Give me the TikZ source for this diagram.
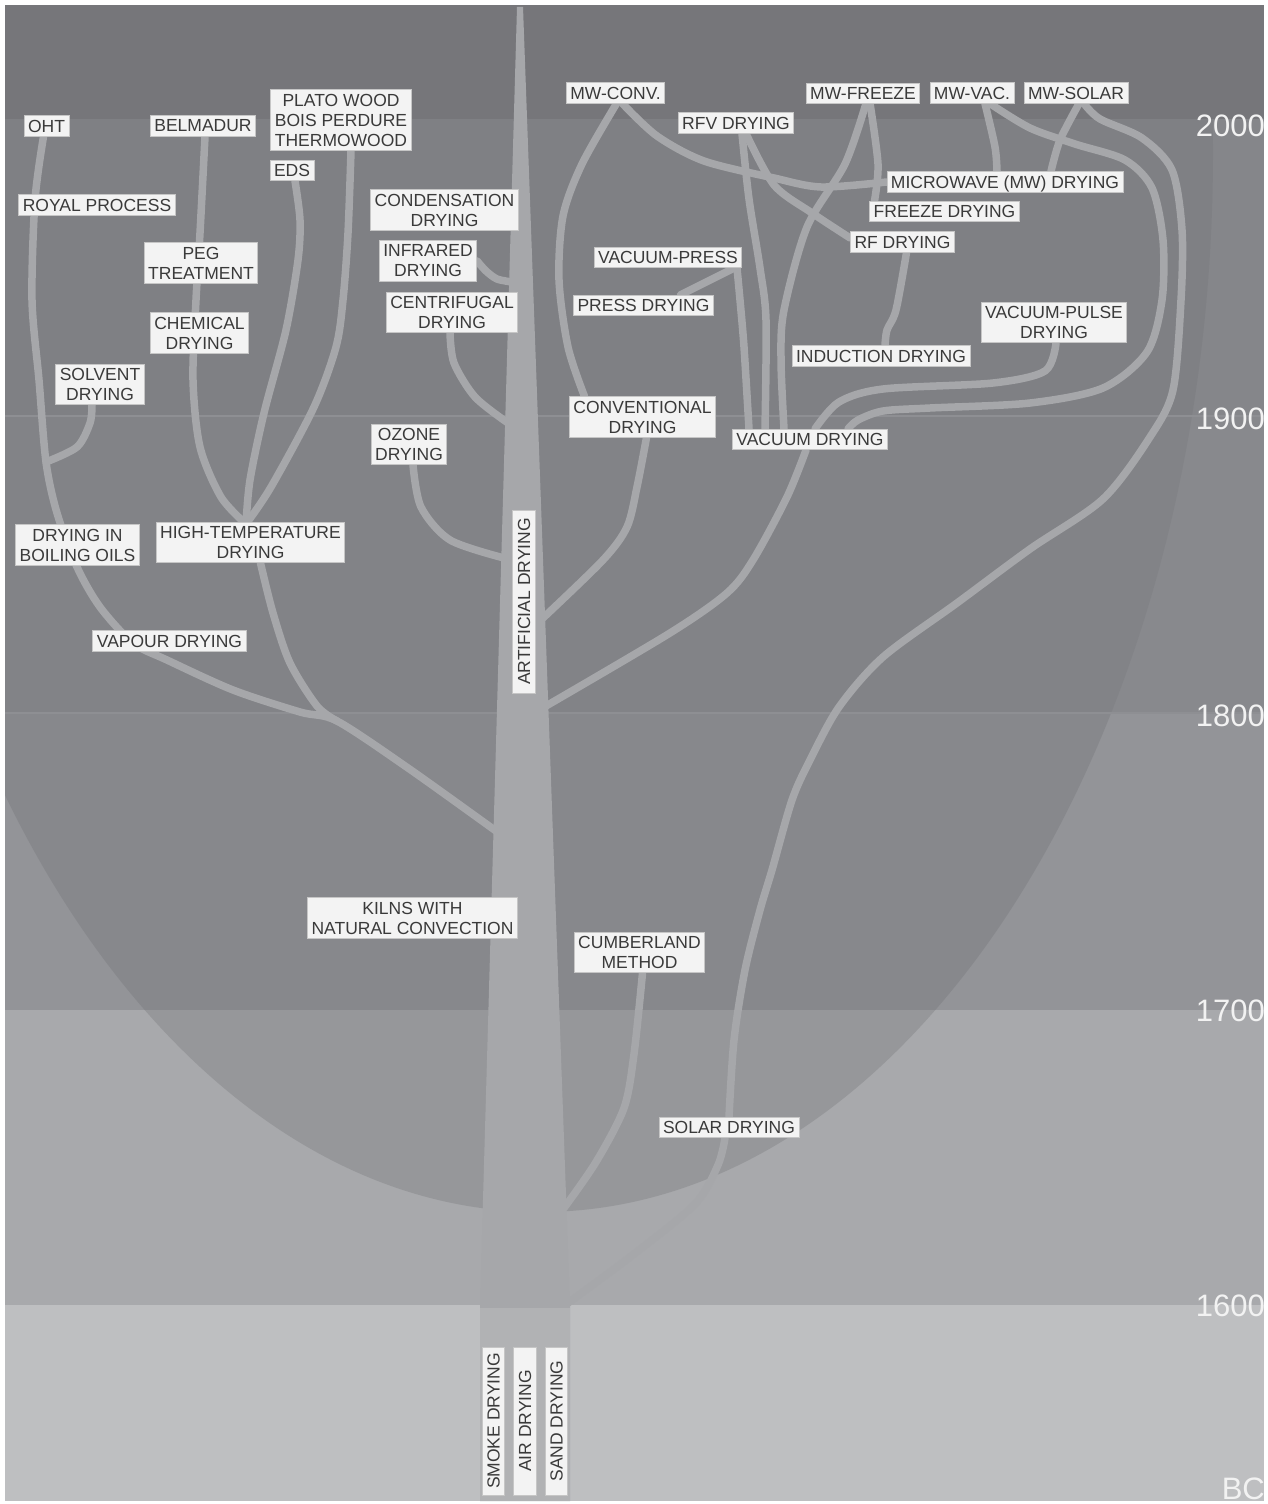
\documentclass[tikz,border=0pt]{standalone}
\usepackage{fontspec}
\setmainfont{Liberation Sans}
\usetikzlibrary{positioning, backgrounds}

\definecolor{topband}{HTML}{76767A}
\definecolor{bandA}{HTML}{85868A}
\definecolor{bandB}{HTML}{88898D}
\definecolor{bandC}{HTML}{939498}
\definecolor{bandD}{HTML}{A8A9AC}
\definecolor{bandE}{HTML}{BEBFC1}
\definecolor{inA}{HTML}{7F8084}
\definecolor{inB}{HTML}{828387}
\definecolor{inC}{HTML}{87888C}
\definecolor{inD}{HTML}{96979A}
\definecolor{bandline}{HTML}{8E8F93}
\definecolor{wood}{HTML}{A6A7AA}
\definecolor{woodlow}{HTML}{B1B2B4}
\definecolor{boxfill}{HTML}{F3F3F3}
\definecolor{boxline}{HTML}{C6C6C6}
\definecolor{labeltext}{HTML}{3A3A3A}
\definecolor{yeartext}{HTML}{F2F2F2}

\newcommand\lblfont{\fontsize{17.5}{20}\selectfont}
\newcommand\yearfont{\fontsize{31}{31}\selectfont}

\begin{document}
\begin{tikzpicture}[x=1pt,y=-1pt,
    lbl/.style={fill=boxfill,draw=boxline,line width=0.8pt,text=labeltext,font=\lblfont,align=center,inner xsep=4pt,inner ysep=4pt},
    vlbl/.style={lbl,rotate=90,minimum width=148pt,inner ysep=5pt},
    branch/.style={draw=wood,line width=7.5pt,line cap=round,line join=round},
    year/.style={text=yeartext,font=\yearfont,anchor=east,inner sep=0pt}]

   \useasboundingbox (0,0) rectangle (1268,1504);

   \coordinate (tI) at (512,282);
   \coordinate (tC) at (508,423);
   \coordinate (tO) at (504,558);
   \coordinate (tL) at (496,831);
   \coordinate (tCv) at (543,618);
   \coordinate (tVa) at (546,706);
   \coordinate (tCu) at (564,1208);
   \coordinate (tSo) at (568,1303);
   \coordinate (jA) at (337,721);
   \coordinate (jB) at (46,462);
   \coordinate (jH) at (246,524);

   \node[lbl] (oht) at (46.5,126) {OHT};
   \node[lbl] (belmadur) at (203,126) {BELMADUR};
   \node[lbl] (plato) at (341,120) {PLATO WOOD\\BOIS PERDURE\\THERMOWOOD};
   \node[lbl] (eds) at (292,170.5) {EDS};
   \node[lbl] (royal) at (97,205) {ROYAL PROCESS};
   \node[lbl] (condens) at (444.5,210) {CONDENSATION\\DRYING};
   \node[lbl] (peg) at (201,263) {PEG\\TREATMENT};
   \node[lbl] (infrared) at (428,261) {INFRARED\\DRYING};
   \node[lbl] (centrif) at (452,312.5) {CENTRIFUGAL\\DRYING};
   \node[lbl] (chemical) at (199.5,333) {CHEMICAL\\DRYING};
   \node[lbl] (solvent) at (100,384.5) {SOLVENT\\DRYING};
   \node[lbl] (ozone) at (409,444.5) {OZONE\\DRYING};
   \node[lbl] (oils) at (77.5,545) {DRYING IN\\BOILING OILS};
   \node[lbl] (hightemp) at (250.5,542.5) {HIGH-TEMPERATURE\\DRYING};
   \node[lbl] (vapour) at (169.5,641) {VAPOUR DRYING};
   \node[lbl] (kilns) at (412.5,918) {KILNS WITH\\NATURAL CONVECTION};
   \node[vlbl, minimum width=183pt] (artificial) at (524,601.5) {ARTIFICIAL DRYING};

   \node[lbl] (mwconv) at (615.5,93) {MW-CONV.};
   \node[lbl] (rfv) at (736,123) {RFV DRYING};
   \node[lbl] (mwfreeze) at (863,93) {MW-FREEZE};
   \node[lbl] (mwvac) at (972,93) {MW-VAC.};
   \node[lbl] (mwsolar) at (1076,93) {MW-SOLAR};
   \node[lbl, text depth=0pt] (microwave) at (1005,182) {MICROWAVE (MW) DRYING};
   \node[lbl] (freeze) at (944.5,211.5) {FREEZE DRYING};
   \node[lbl] (rf) at (902.5,242) {RF DRYING};
   \node[lbl] (vpress) at (668,257.5) {VACUUM-PRESS};
   \node[lbl] (press) at (643.5,305.5) {PRESS DRYING};
   \node[lbl] (vpulse) at (1054,322.5) {VACUUM-PULSE\\DRYING};
   \node[lbl] (induction) at (881,356) {INDUCTION DRYING};
   \node[lbl] (conventional) at (642.5,417) {CONVENTIONAL\\DRYING};
   \node[lbl] (vacuum) at (810,439.5) {VACUUM DRYING};
   \node[lbl] (cumberland) at (639.5,952.5) {CUMBERLAND\\METHOD};
   \node[lbl] (solar) at (729,1127.5) {SOLAR DRYING};

   \begin{scope}[node distance=31.5pt, on grid]
     \node[vlbl] (smoke) at (493.5,1421) {SMOKE DRYING};
     \node[vlbl] (air) [right=of smoke] {AIR DRYING};
     \node[vlbl] (sand) [right=of air] {SAND DRYING};
   \end{scope}

   \node[year] (y2000) at (1265,126) {2000};
   \node[year] (y1900) at (1265,419) {1900};
   \node[year] (y1800) at (1265,716) {1800};
   \node[year] (y1700) at (1265,1011) {1700};
   \node[year] (y1600) at (1265,1306) {1600};
   \node[year] (bc) at (1265,1489) {BC};

   \begin{pgfonlayer}{background}
   \fill[white] (0,0) rectangle (1268,1504);
   \fill[bandA] (5,119) rectangle (1264,416);
   \fill[bandB] (5,416) rectangle (1264,713);
   \fill[bandC] (5,713) rectangle (1264,1010);
   \fill[bandD] (5,1010) rectangle (1264,1305);
   \fill[bandE] (5,1305) rectangle (1264,1501);
   \begin{scope}
     \clip (540,152) ellipse [x radius=673, y radius=1060];
     \fill[inA] (5,119) rectangle (1264,416);
     \fill[inB] (5,416) rectangle (1264,713);
     \fill[inC] (5,713) rectangle (1264,1010);
     \fill[inD] (5,1010) rectangle (1264,1305);
   \end{scope}
   \fill[topband] (5,5) rectangle (1264,119);
   \draw[bandline, line width=1.5pt] (5,416) -- (1264,416);
   \draw[bandline, line width=1.5pt] (5,713) -- (1264,713);

   \draw[branch] plot[smooth] coordinates {(tL) (408,768) (jA) (300,712) (233,690) (167,660) (133,643) (100,607) (77,567) (57,513) (jB) (39,380) (32,300) (35,200) ([xshift=-3pt]oht.south)};
   \draw[branch] plot[smooth] coordinates {(jA) (317,706) (290,663) (273,613) ([xshift=10pt]hightemp.south)};
   \draw[branch] plot[smooth] coordinates {(jH) (221,497) (200,447) (193,380) (196,300) (200,233) ([xshift=2pt]belmadur.south)};
   \draw[branch] plot[smooth] coordinates {(jH) (250,480) (264,413) (286,330) (298,260) (300,220) ([xshift=3pt]eds.south)};
   \draw[branch] plot[smooth] coordinates {(jH) (271,487) (314,407) (336,347) (343,300) (348,233) ([xshift=10pt]plato.south)};
   \draw[branch] plot[smooth] coordinates {([xshift=-8pt]solvent.south) (90,423) (77,447) (jB)};
   \draw[branch] plot[smooth] coordinates {(infrared.east) (486,271) (497,279) (tI)};
   \draw[branch] plot[smooth] coordinates {([xshift=-2pt]centrif.south) (454,363) (475,397) (tC)};
   \draw[branch] plot[smooth] coordinates {([xshift=4pt]ozone.south) (421,507) (450,540) (tO)};

   \draw[branch] plot[smooth] coordinates {(tCv) (603,560) (627,527) (637,487) ([xshift=4pt]conventional.south)};
   \draw[branch] plot[smooth] coordinates {([xshift=-58pt]conventional.north) (568,347) (559,280) (563,216) (582,164) ([xshift=1pt]mwconv.south)};
   \draw[branch] plot[smooth] coordinates {([xshift=7pt]mwconv.south) (657,136) (704,161) (774,178) (821,187) (microwave.west)};
   \draw[branch] plot[smooth] coordinates {(tVa) (670,633) (727,593) (753,560) (787,497) ([xshift=-4pt]vacuum.south)};
   \draw[branch] plot[smooth] coordinates {([xshift=5pt]vacuum.north) (839,402) (883,389) (993,383) (1045,371) ([xshift=2pt]vpulse.south)};
   \draw[branch] plot[smooth] coordinates {([xshift=18pt]mwvac.south) (1030,128) (1075,144) (1125,160) (1152,188) (1163,240) (1162,300) (1147,352) (1103,388) (1030,403) (930,408) (883,411) (858,420) ([xshift=38pt]vacuum.north)};
   \draw[branch] plot[smooth] coordinates {([xshift=13pt]mwvac.south) (995,147) ([xshift=-8pt]microwave.north)};
   \draw[branch] plot[smooth] coordinates {([xshift=3pt]mwsolar.south) (1060,140) ([xshift=46pt]microwave.north)};
   \draw[branch] plot[smooth] coordinates {([xshift=8pt]mwsolar.south) (1100,119) (1142,138) (1172,170) (1182,230) (1181,300) (1173,390) (1150,437) (1103,499) (1030,549) (957,603) (883,657) (839,707) (810,760) (792,800) (772,870) (760,910) (745,970) (734,1040) (solar.north)};
   \draw[branch] plot[smooth] coordinates {([xshift=-4pt]solar.south) (718,1165) (695,1204) (634,1254) (tSo)};
   \draw[branch] plot[smooth] coordinates {([xshift=7pt]mwfreeze.south) (878,164) ([xshift=-70pt]freeze.north)};
   \draw[branch] plot[smooth] coordinates {([xshift=3pt]mwfreeze.south) (845,164) (807,227) (784,310) (781,360) ([xshift=-26pt]vacuum.north)};
   \draw[branch] plot[smooth] coordinates {([xshift=6pt]rfv.south) (749,199) (760,268) (766,320) ([xshift=-45pt]vacuum.north)};
   \draw[branch] plot[smooth] coordinates {([xshift=10pt]rfv.south) (774,185) (812,213) ([yshift=4pt]rf.west)};
   \draw[branch] plot[smooth] coordinates {([xshift=4pt]rf.south) (896,310) (887,330) ([xshift=4pt]induction.north)};
   \draw[branch] plot[smooth] coordinates {([xshift=69pt]vpress.south) (740,300) (744,347) ([xshift=-61pt]vacuum.north)};
   \draw[branch] ([xshift=37pt]press.north) -- ([xshift=66pt]vpress.south);
   \draw[branch] plot[smooth] coordinates {([xshift=3pt]cumberland.south) (634,1054) (624,1108) (596,1162) (tCu)};

   \fill[wood] (517,7) -- (523,7) -- (570,1305) -- (570,1501) -- (480,1501) -- (480,1305) -- cycle;
   \fill[woodlow] (480,1308) rectangle (570,1501);
   \end{pgfonlayer}
\end{tikzpicture}
\end{document}
